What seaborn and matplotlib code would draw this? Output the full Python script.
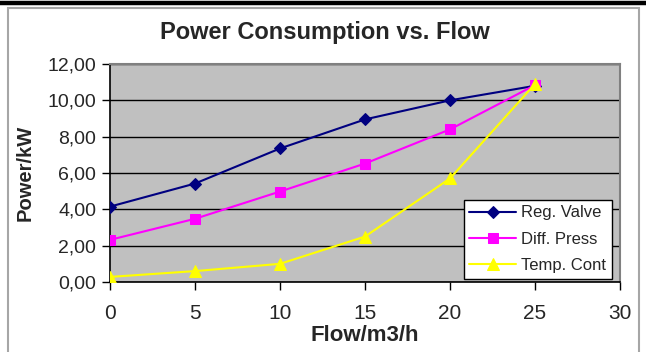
import matplotlib
matplotlib.use("Agg")
import matplotlib.pyplot as plt
import seaborn as sns
import pandas as pd
from matplotlib.ticker import FuncFormatter, MultipleLocator
from matplotlib.patches import Rectangle
from matplotlib.lines import Line2D

flow = [0, 5, 10, 15, 20, 25]
reg_valve = [4.15, 5.42, 7.35, 8.95, 10.0, 10.8]
diff_press = [2.32, 3.48, 4.98, 6.52, 8.4, 10.84]
temp_cont = [0.28, 0.6, 1.0, 2.5, 5.7, 10.9]
series_names = ["Reg. Valve", "Diff. Press", "Temp. Cont"]

sns.set_style("white")
plt.rcParams['font.family'] = ['Liberation Sans', 'DejaVu Sans']

W, H = 646, 352
fig = plt.figure(figsize=(W / 100, H / 100), dpi=100)

# chart frame decorations
fig.add_artist(Line2D([0, 1], [1 - 3 / H, 1 - 3 / H], transform=fig.transFigure,
                      color="black", lw=3.2))
fig.add_artist(Rectangle((8 / W, -0.05), (639 - 8) / W, (H - 8) / H + 0.05,
                         transform=fig.transFigure, fill=False,
                         edgecolor="#a6a6a6", lw=1.5))

left, right, top, bottom = 110, 620, 64, 282
ax = fig.add_axes([left / W, (H - bottom) / H, (right - left) / W, (bottom - top) / H])
ax.set_facecolor("#c0c0c0")

df = pd.DataFrame({"flow": flow * 3,
                   "power": reg_valve + diff_press + temp_cont,
                   "series": sum([[n] * len(flow) for n in series_names], [])})

palette = {"Reg. Valve": "#000080", "Diff. Press": "#ff00ff", "Temp. Cont": "#ffff00"}
markers = {"Reg. Valve": "D", "Diff. Press": "s", "Temp. Cont": "^"}
sizes = {"Reg. Valve": 6, "Diff. Press": 7.5, "Temp. Cont": 9}
for name in series_names:
    sub = df[df["series"] == name]
    sns.lineplot(data=sub, x="flow", y="power", ax=ax, color=palette[name],
                 marker=markers[name], markersize=sizes[name], markeredgecolor=palette[name],
                 lw=1.5, label=name, zorder=3)

ax.set_xlim(0, 30)
ax.set_ylim(0, 12)
ax.xaxis.set_major_locator(MultipleLocator(5))
ax.yaxis.set_major_locator(MultipleLocator(2))
ax.yaxis.set_major_formatter(FuncFormatter(lambda v, p: f"{v:.2f}".replace(".", ",")))
ax.grid(axis="y", color="black", lw=1)
ax.set_axisbelow(True)

for s in ["top", "right"]:
    ax.spines[s].set_color("#808080")
    ax.spines[s].set_linewidth(1.5)
for s in ["left", "bottom"]:
    ax.spines[s].set_color("black")
    ax.spines[s].set_linewidth(1.2)

ax.tick_params(axis="both", which="major", direction="out", length=6, width=1,
               color="black", left=True, bottom=True)
ax.tick_params(axis="x", pad=10, labelsize=15)
ax.tick_params(axis="y", pad=4, labelsize=14)

ax.set_xlabel("Flow/m3/h", fontsize=16, fontweight="bold", labelpad=1)
ax.set_ylabel("Power/kW", fontsize=14.5, fontweight="bold", labelpad=9)
fig.text(325 / W, 1 - 32 / H, "Power Consumption vs. Flow", ha="center", va="center",
         fontsize=17, fontweight="bold")

leg = ax.legend(loc="lower right", bbox_to_anchor=(1 - 8 / 510, 3 / 218),
                frameon=True, fancybox=False, fontsize=12, borderpad=0.35,
                labelspacing=0.68, handlelength=2.8, handletextpad=0.3, borderaxespad=0)
leg.get_frame().set_edgecolor("black")
leg.get_frame().set_linewidth(1)
leg.get_frame().set_facecolor("white")
leg.get_frame().set_alpha(1)

fig.savefig("out.png", dpi=100)
